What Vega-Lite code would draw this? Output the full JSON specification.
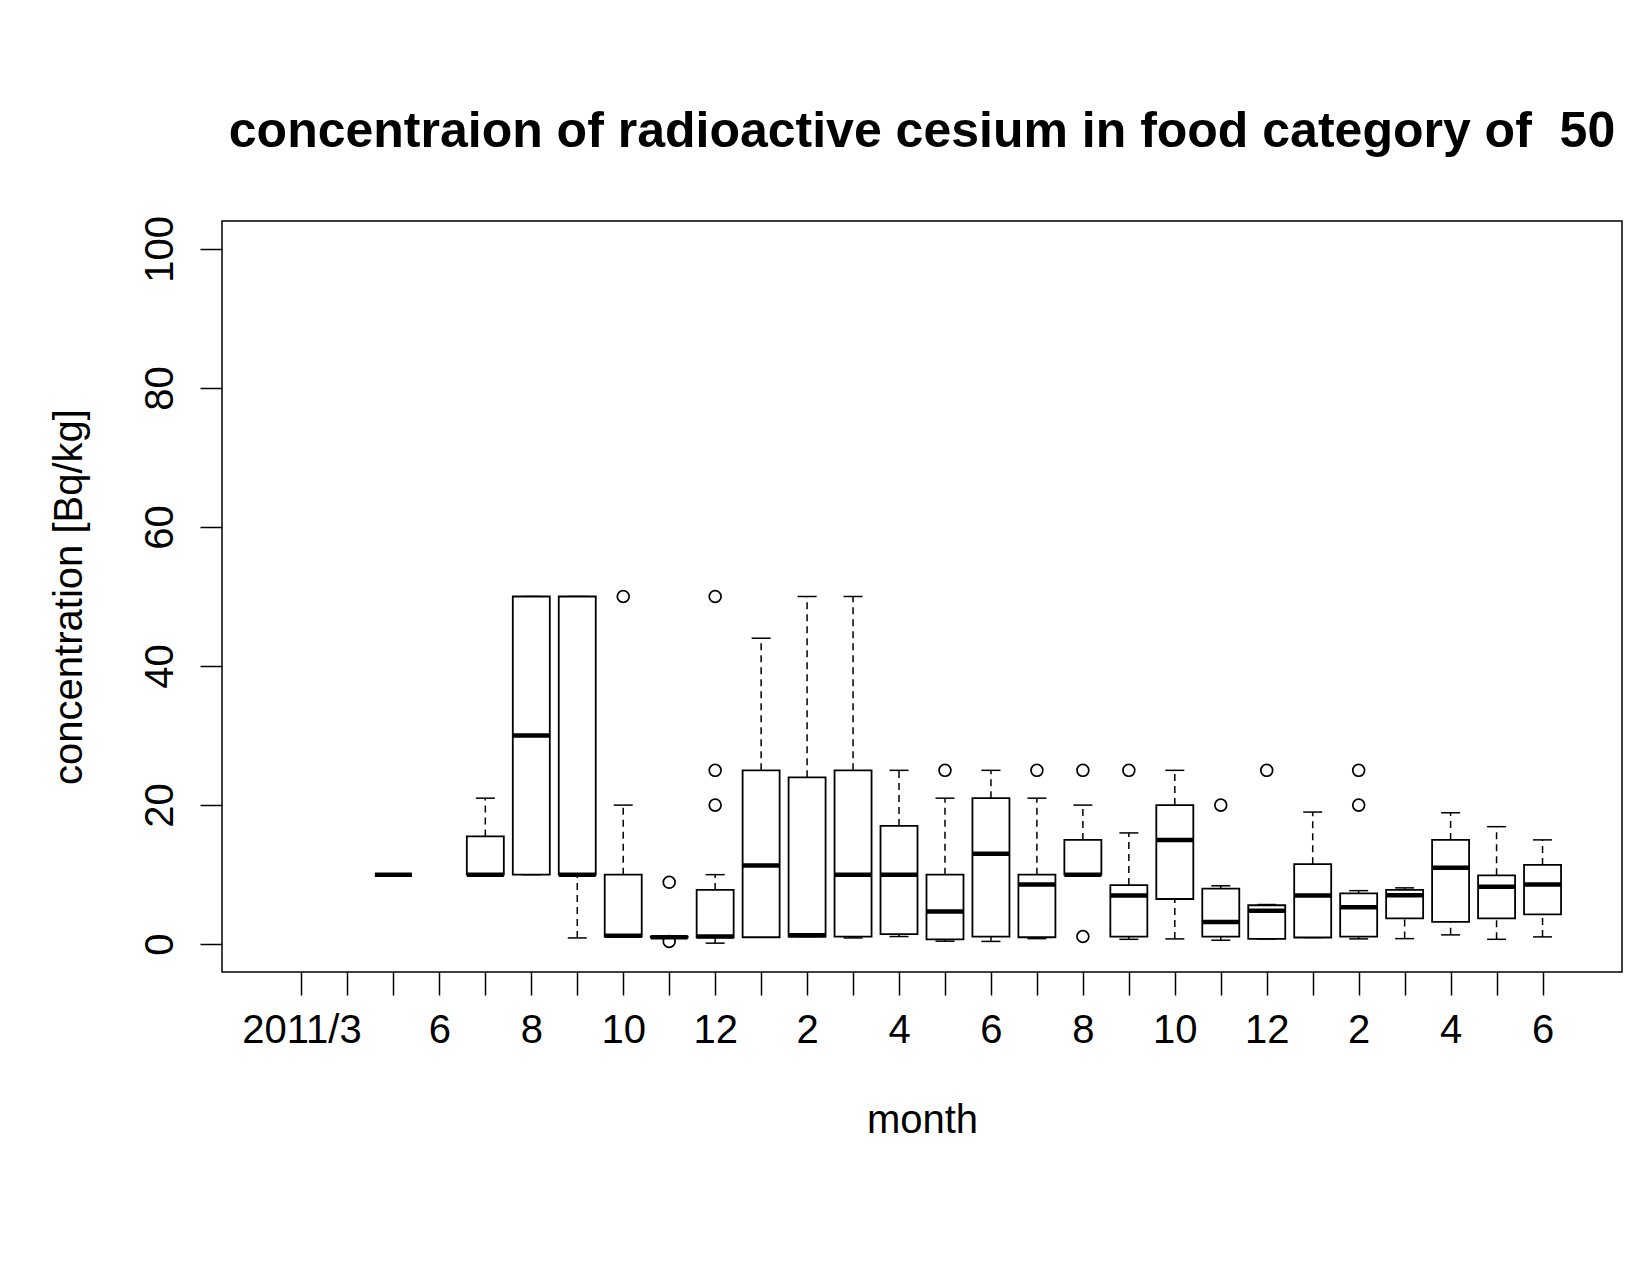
{
  "$schema": "https://vega.github.io/schema/vega-lite/v6.json",
  "width": 1400,
  "height": 751,
  "autosize": {"type": "none"},
  "padding": {"left": 222, "top": 221, "right": 28, "bottom": 303},
  "background": "white",
  "title": {
    "text": "concentraion of radioactive cesium in food category of \u00a050",
    "font": "Liberation Sans",
    "fontSize": 50,
    "fontWeight": "bold",
    "color": "black",
    "anchor": "middle",
    "frame": "group",
    "baseline": "alphabetic",
    "offset": 18
  },
  "datasets": {
    "boxes": [
      {"m": 3, "lo": 10, "q1": 10, "med": 10, "q3": 10, "hi": 10},
      {"m": 5, "lo": 10, "q1": 10, "med": 10, "q3": 15.5, "hi": 21},
      {"m": 6, "lo": 10, "q1": 10, "med": 30, "q3": 50, "hi": 50},
      {"m": 7, "lo": 0.9, "q1": 10, "med": 10, "q3": 50, "hi": 50},
      {"m": 8, "lo": 1.0, "q1": 1.1, "med": 1.2, "q3": 10, "hi": 20},
      {"m": 9, "lo": 1.0, "q1": 1.0, "med": 1.0, "q3": 1.1, "hi": 1.1},
      {"m": 10, "lo": 0.15, "q1": 1.0, "med": 1.1, "q3": 7.8, "hi": 10},
      {"m": 11, "lo": 1.0, "q1": 1.0, "med": 11.3, "q3": 25, "hi": 44},
      {"m": 12, "lo": 1.1, "q1": 1.1, "med": 1.3, "q3": 24, "hi": 50},
      {"m": 13, "lo": 0.9, "q1": 1.1, "med": 10, "q3": 25, "hi": 50},
      {"m": 14, "lo": 1.1, "q1": 1.44, "med": 10, "q3": 17, "hi": 25},
      {"m": 15, "lo": 0.43, "q1": 0.7, "med": 4.7, "q3": 10, "hi": 21},
      {"m": 16, "lo": 0.4, "q1": 1.1, "med": 13, "q3": 21, "hi": 25},
      {"m": 17, "lo": 0.8, "q1": 1.0, "med": 8.6, "q3": 10, "hi": 21},
      {"m": 18, "lo": 10, "q1": 10, "med": 10, "q3": 15, "hi": 20},
      {"m": 19, "lo": 0.7, "q1": 1.1, "med": 7.0, "q3": 8.5, "hi": 16},
      {"m": 20, "lo": 0.76, "q1": 6.5, "med": 15, "q3": 20, "hi": 25},
      {"m": 21, "lo": 0.57, "q1": 1.1, "med": 3.2, "q3": 8, "hi": 8.4},
      {"m": 22, "lo": 0.76, "q1": 0.76, "med": 4.8, "q3": 5.6, "hi": 5.7},
      {"m": 23, "lo": 0.96, "q1": 0.96, "med": 7.0, "q3": 11.5, "hi": 19},
      {"m": 24, "lo": 0.76, "q1": 1.1, "med": 5.3, "q3": 7.3, "hi": 7.7},
      {"m": 25, "lo": 0.8, "q1": 3.7, "med": 7.05, "q3": 7.8, "hi": 8.1},
      {"m": 26, "lo": 1.34, "q1": 3.2, "med": 11, "q3": 15, "hi": 18.9},
      {"m": 27, "lo": 0.7, "q1": 3.7, "med": 8.25, "q3": 9.9, "hi": 16.9},
      {"m": 28, "lo": 1.05, "q1": 4.3, "med": 8.6, "q3": 11.4, "hi": 15}
    ],
    "outliers": [
      {"m": 8, "v": 50},
      {"m": 9, "v": 8.9},
      {"m": 9, "v": 0.4},
      {"m": 10, "v": 20},
      {"m": 10, "v": 25},
      {"m": 10, "v": 50},
      {"m": 15, "v": 25},
      {"m": 17, "v": 25},
      {"m": 18, "v": 25},
      {"m": 18, "v": 1.1},
      {"m": 19, "v": 25},
      {"m": 21, "v": 20},
      {"m": 22, "v": 25},
      {"m": 24, "v": 20},
      {"m": 24, "v": 25}
    ]
  },
  "encoding": {
    "x": {
      "field": "m",
      "type": "quantitative",
      "title": "month",
      "scale": {"domain": [-0.62, 29.62], "nice": false, "zero": false},
      "axis": {
        "values": [1,2,3,4,5,6,7,8,9,10,11,12,13,14,15,16,17,18,19,20,21,22,23,24,25,26,27,28],
        "labelExpr": "['2011/3','','','6','','8','','10','','12','','2','','4','','6','','8','','10','','12','','2','','4','','6'][datum.value - 1]"
      }
    }
  },
  "layer": [
    {
      "data": {"name": "boxes"},
      "mark": {"type": "rule", "color": "black", "strokeWidth": 1.5, "strokeDash": [7, 5]},
      "encoding": {
        "y": {"field": "q3", "type": "quantitative", "title": "concentration [Bq/kg]", "scale": {"domain": [-4, 104], "nice": false, "zero": false}, "axis": {"values": [0, 20, 40, 60, 80, 100]}},
        "y2": {"field": "hi"}
      }
    },
    {
      "data": {"name": "boxes"},
      "mark": {"type": "rule", "color": "black", "strokeWidth": 1.5, "strokeDash": [7, 5]},
      "encoding": {
        "y": {"field": "lo", "type": "quantitative", "title": "concentration [Bq/kg]", "scale": {"domain": [-4, 104], "nice": false, "zero": false}},
        "y2": {"field": "q1"}
      }
    },
    {
      "data": {"name": "boxes"},
      "mark": {"type": "tick", "orient": "horizontal", "color": "black", "size": 19, "thickness": 1.5, "opacity": 1},
      "encoding": {
        "y": {"field": "hi", "type": "quantitative", "title": "concentration [Bq/kg]", "scale": {"domain": [-4, 104], "nice": false, "zero": false}}
      }
    },
    {
      "data": {"name": "boxes"},
      "mark": {"type": "tick", "orient": "horizontal", "color": "black", "size": 19, "thickness": 1.5, "opacity": 1},
      "encoding": {
        "y": {"field": "lo", "type": "quantitative", "title": "concentration [Bq/kg]", "scale": {"domain": [-4, 104], "nice": false, "zero": false}}
      }
    },
    {
      "data": {"name": "boxes"},
      "mark": {"type": "bar", "orient": "vertical", "fill": "white", "stroke": "black", "strokeWidth": 1.8, "size": 37, "opacity": 1},
      "encoding": {
        "y": {"field": "q1", "type": "quantitative", "title": "concentration [Bq/kg]", "scale": {"domain": [-4, 104], "nice": false, "zero": false}},
        "y2": {"field": "q3"}
      }
    },
    {
      "data": {"name": "boxes"},
      "mark": {"type": "tick", "orient": "horizontal", "color": "black", "size": 37, "thickness": 4.5, "opacity": 1},
      "encoding": {
        "y": {"field": "med", "type": "quantitative", "title": "concentration [Bq/kg]", "scale": {"domain": [-4, 104], "nice": false, "zero": false}}
      }
    },
    {
      "data": {"name": "outliers"},
      "mark": {"type": "point", "shape": "circle", "filled": false, "color": "black", "size": 140, "strokeWidth": 1.7, "opacity": 1},
      "encoding": {
        "y": {"field": "v", "type": "quantitative", "title": "concentration [Bq/kg]", "scale": {"domain": [-4, 104], "nice": false, "zero": false}}
      }
    }
  ],
  "config": {
    "view": {"stroke": "black", "strokeWidth": 1.5, "fill": "white"},
    "axis": {
      "domain": false,
      "grid": false,
      "ticks": true,
      "tickColor": "black",
      "tickWidth": 1.5,
      "labelFont": "Liberation Sans",
      "labelFontSize": 40,
      "labelColor": "black",
      "titleFont": "Liberation Sans",
      "titleFontSize": 40,
      "titleFontWeight": "normal",
      "titleColor": "black"
    },
    "axisX": {
      "tickSize": 23,
      "labelPadding": 15,
      "labelAngle": 0,
      "labelOverlap": false,
      "labelFlush": false,
      "titleY": 160,
      "titleBaseline": "alphabetic"
    },
    "axisY": {
      "tickSize": 22,
      "labelAngle": -90,
      "labelAlign": "center",
      "labelBaseline": "alphabetic",
      "labelPadding": 28,
      "labelOverlap": false,
      "labelFlush": false,
      "titleX": -141,
      "titleAngle": -90,
      "titleAlign": "center",
      "titleBaseline": "alphabetic"
    }
  }
}
